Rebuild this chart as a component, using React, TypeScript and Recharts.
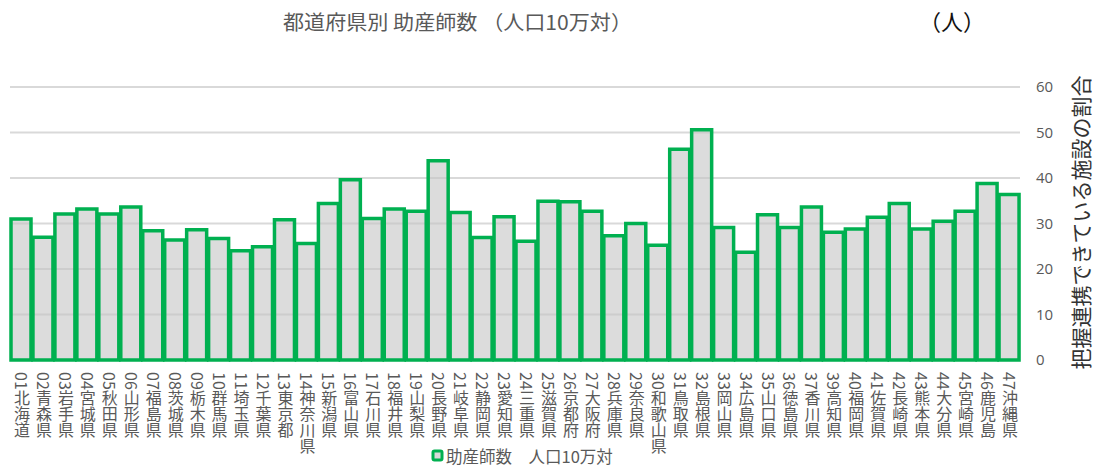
import { BarChart, Bar, XAxis, YAxis, CartesianGrid } from "recharts";

const prefectures = [
  "01北海道", "02青森県", "03岩手県", "04宮城県", "05秋田県", "06山形県", "07福島県", "08茨城県",
  "09栃木県", "10群馬県", "11埼玉県", "12千葉県", "13東京都", "14神奈川県", "15新潟県", "16富山県",
  "17石川県", "18福井県", "19山梨県", "20長野県", "21岐阜県", "22静岡県", "23愛知県", "24三重県",
  "25滋賀県", "26京都府", "27大阪府", "28兵庫県", "29奈良県", "30和歌山県", "31鳥取県", "32島根県",
  "33岡山県", "34広島県", "35山口県", "36徳島県", "37香川県", "39高知県", "40福岡県", "41佐賀県",
  "42長崎県", "43熊本県", "44大分県", "45宮崎県", "46鹿児島", "47沖縄県",
];

const midwives = [
  31.0, 27.0, 32.1, 33.2, 32.1, 33.6, 28.4, 26.4,
  28.6, 26.7, 24.0, 24.9, 30.8, 25.6, 34.4, 39.6,
  31.1, 33.2, 32.7, 43.8, 32.4, 26.9, 31.5, 26.1,
  34.9, 34.8, 32.7, 27.3, 30.0, 25.2, 46.3, 50.6,
  29.1, 23.7, 31.9, 29.1, 33.6, 28.1, 28.8, 31.4,
  34.4, 28.8, 30.5, 32.7, 38.8, 36.4,
];

const yTicks = [0, 10, 20, 30, 40, 50, 60];

const chartData = prefectures.map((name, i) => ({ name, value: midwives[i] }));

const GREEN = "#00b050";
const GRAY_TEXT = "#595959";
const FONT = "'Noto Sans CJK JP', 'Noto Sans', sans-serif";

function VerticalTick(props: any) {
  const { x, y, payload } = props;
  return (
    <text
      x={x + 1}
      y={y}
      fill={GRAY_TEXT}
      fontSize={16}
      fontFamily={FONT}
      style={{ writingMode: "vertical-rl" }}
    >
      {payload.value}
    </text>
  );
}

function AxisTitle(props: any) {
  const { viewBox } = props;
  const x = viewBox.x + viewBox.width - 14;
  const y = viewBox.y + viewBox.height / 2 - 1;
  return (
    <text
      x={x}
      y={y}
      transform={`rotate(-90, ${x}, ${y})`}
      textAnchor="middle"
      dominantBaseline="central"
      fontSize={21}
      fontFamily={FONT}
      fill="#333"
    >
      把握連携できている施設の割合
    </text>
  );
}

export default function App() {
  return (
    <div
      style={{
        position: "absolute",
        left: 0,
        top: 0,
        width: 1094,
        height: 468,
        overflow: "hidden",
        background: "#fff",
        fontFamily: FONT,
      }}
    >
      <BarChart
        width={1094}
        height={468}
        data={chartData}
        margin={{ top: 87, right: 0, left: 10, bottom: 0 }}
        barCategoryGap={1}
      >
        <CartesianGrid vertical={false} stroke="#d9d9d9" strokeWidth={2} />
        <XAxis
          dataKey="name"
          interval={0}
          height={108}
          axisLine={false}
          tickLine={false}
          tickSize={0}
          tickMargin={12}
          tick={<VerticalTick />}
        />
        <YAxis
          orientation="right"
          domain={[0, 60]}
          ticks={yTicks}
          width={74}
          axisLine={false}
          tickLine={false}
          tickSize={0}
          tickMargin={16}
          tick={{ fill: GRAY_TEXT, fontSize: 15, fontFamily: "'Open Sans', sans-serif" }}
          label={<AxisTitle />}
        />
        <Bar
          dataKey="value"
          fill="#c4c4c4"
          fillOpacity={0.6}
          stroke={GREEN}
          strokeWidth={3.5}
          isAnimationActive={false}
        />
      </BarChart>

      <svg
        width={1094}
        height={468}
        style={{ position: "absolute", left: 0, top: 0, pointerEvents: "none" }}
      >
        <text
          x={283}
          y={21}
          dominantBaseline="central"
          fontSize={20}
          fill={GRAY_TEXT}
          textLength={349}
          lengthAdjust="spacingAndGlyphs"
        >
          都道府県別 助産師数 （人口10万対）
        </text>
        <text x={919} y={20} dominantBaseline="central" fontSize={22} fill="#111">
          （人）
        </text>
        <rect x={433} y={451} width={9} height={9} rx={1.5} fill="#d9d9d9" stroke={GREEN} strokeWidth={3} />
        <text x={446} y={456} dominantBaseline="central" fontSize={16.5} fill={GRAY_TEXT}>
          助産師数　人口10万対
        </text>
      </svg>
    </div>
  );
}
